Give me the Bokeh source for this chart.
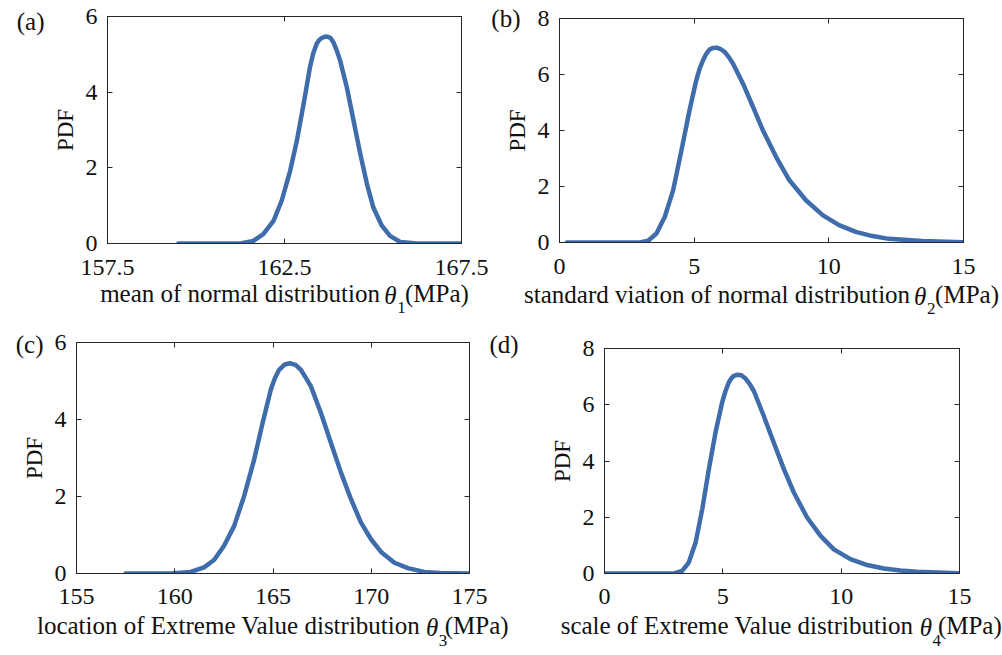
from bokeh.plotting import figure
from bokeh.layouts import column, row
from bokeh.models import LinearAxis, Range1d, FixedTicker, CustomJSTickFormatter
from bokeh.embed import file_html
from bokeh.resources import INLINE

# ---------------- data ----------------
a_x = [159.5, 160.5, 161.25, 161.62, 161.9, 162.19, 162.42, 162.66, 162.85, 163.04,
       163.22, 163.31, 163.41, 163.48, 163.55, 163.62, 163.68, 163.74, 163.8, 163.88,
       163.97, 164.07, 164.26, 164.45, 164.64, 164.83, 165.01, 165.25, 165.48, 165.77,
       166.24, 167.5]
a_y = [0.0, 0.0, 0.0, 0.07, 0.25, 0.6, 1.13, 1.92, 2.72, 3.69,
       4.66, 5.02, 5.28, 5.38, 5.43, 5.46, 5.47, 5.46, 5.43, 5.32,
       5.12, 4.84, 4.13, 3.25, 2.37, 1.57, 0.95, 0.47, 0.2, 0.04,
       0.0, 0.0]

b_x = [0.27, 2.98, 3.29, 3.6, 3.91, 4.22, 4.53, 4.83, 5.08, 5.2, 5.33, 5.45, 5.57,
       5.7, 5.84, 5.98, 6.13, 6.28, 6.44, 6.81, 7.18, 7.55, 8.04, 8.53, 9.15, 9.77,
       10.38, 11.0, 11.62, 12.23, 13.47, 15.0]
b_y = [0.0, 0.0, 0.06, 0.32, 0.92, 1.87, 3.3, 4.73, 5.8, 6.2, 6.51, 6.74, 6.89,
       6.95, 6.96, 6.91, 6.81, 6.63, 6.39, 5.68, 4.85, 4.01, 3.06, 2.23, 1.51, 0.98,
       0.62, 0.38, 0.23, 0.13, 0.05, 0.01]

c_x = [157.5, 159.8, 160.81, 161.49, 162.0, 162.51, 163.02, 163.53, 164.04, 164.47,
       164.89, 165.1, 165.31, 165.6, 165.86, 166.15, 166.42, 166.65, 166.93, 167.44,
       167.95, 168.46, 168.97, 169.48, 169.99, 170.5, 171.18, 171.86, 172.7, 173.5,
       175.0]
c_y = [0.0, 0.0, 0.04, 0.16, 0.35, 0.72, 1.23, 2.01, 2.96, 3.91,
       4.78, 5.08, 5.29, 5.43, 5.46, 5.42, 5.29, 5.1, 4.86, 4.17,
       3.39, 2.62, 1.93, 1.32, 0.89, 0.56, 0.28, 0.14, 0.04, 0.01,
       0.0]

d_x = [0.04, 2.93, 3.28, 3.56, 3.85, 4.13, 4.41, 4.69, 4.97, 5.11, 5.25, 5.35, 5.45,
       5.61, 5.78, 5.96, 6.13, 6.31, 6.73, 7.15, 7.58, 8.0, 8.56, 9.13, 9.69, 10.39,
       11.1, 11.8, 12.5, 13.2, 14.97]
d_y = [0.0, 0.0, 0.09, 0.39, 1.1, 2.29, 3.71, 5.01, 6.08, 6.48, 6.79, 6.93, 7.02,
       7.07, 7.05, 6.93, 6.74, 6.49, 5.6, 4.66, 3.71, 2.88, 1.99, 1.34, 0.86, 0.51,
       0.3, 0.18, 0.11, 0.06, 0.01]

a_xticks = [157.5, 162.5, 167.5]
b_xticks = [0, 5, 10, 15]
c_xticks = [155, 160, 165, 170, 175]
d_xticks = [0, 5, 10, 15]
a_yticks = [0, 2, 4, 6]
b_yticks = [0, 2, 4, 6, 8]
c_yticks = [0, 2, 4, 6]
d_yticks = [0, 2, 4, 6, 8]

a_label = ("mean of normal distribution", "1")
b_label = ("standard viation of normal distribution", "2")
c_label = ("location of Extreme Value distribution", "3")
d_label = ("scale of Extreme Value distribution", "4")
unit_text = "(MPa)"
theta_text = "\u03b8"
y_title = "PDF"
panel_tags = ["(a)", "(b)", "(c)", "(d)"]

# ---------------- styling ----------------
FONT = "Liberation Serif"
LINE_COLOR = "#3f6cab"
AX_COLOR = "#262626"
TXT = "#111111"
TICK_FS = 24
LAB_FS = 25
SUB_FS = 17
TAG_FS = 25
GAP = "\u2003"      # em space: room for theta + subscript
GAP_W = LAB_FS * 1.0

W = {' ': 250, '(': 333, ')': 333, 'M': 889, 'P': 556, 'E': 611, 'V': 722,
     'a': 444, 'b': 500, 'c': 444, 'd': 500, 'e': 444, 'f': 333, 'h': 500,
     'i': 278, 'l': 278, 'm': 778, 'n': 500, 'o': 500, 'r': 333, 's': 389,
     't': 278, 'u': 500, 'v': 500, 'x': 500}

FRAMES = {}


def tw(s, fs):
    return sum(W.get(ch, 500) for ch in s) / 1000.0 * fs


def const_formatter(txt):
    return CustomJSTickFormatter(args=dict(t=txt), code="return t")


def hidden_line(ax):
    ax.axis_line_color = None
    ax.major_tick_line_color = None
    ax.minor_tick_line_color = None
    ax.major_tick_in = 0
    ax.major_tick_out = 0


def text_axis(p, side, pos, txt, fs, standoff, style="normal"):
    ax = LinearAxis(ticker=FixedTicker(ticks=[pos]), formatter=const_formatter(txt))
    hidden_line(ax)
    ax.major_label_text_font = FONT
    ax.major_label_text_font_size = f"{fs}px"
    ax.major_label_text_font_style = style
    ax.major_label_text_color = TXT
    ax.major_label_standoff = standoff
    p.add_layout(ax, side)
    return ax


def style_main_axis(ax, standoff):
    ax.axis_line_color = AX_COLOR
    ax.axis_line_width = 1
    ax.major_tick_line_color = AX_COLOR
    ax.major_tick_in = 5
    ax.major_tick_out = 0
    ax.minor_tick_line_color = None
    ax.major_label_text_font = FONT
    ax.major_label_text_color = TXT
    ax.major_label_text_font_size = f"{TICK_FS}px"
    ax.major_label_standoff = standoff


def blank_axis(p, side, ticks):
    ax = LinearAxis(ticker=FixedTicker(ticks=ticks), formatter=const_formatter(""))
    ax.axis_line_color = AX_COLOR
    ax.major_tick_line_color = AX_COLOR
    ax.major_tick_in = 5
    ax.major_tick_out = 0
    ax.minor_tick_line_color = None
    ax.major_label_text_font_size = "0px"
    ax.major_label_standoff = 0
    p.add_layout(ax, side)


def make_panel(key, xs, ys, xr, yr, xticks, yticks, width, height, borders, x_standoff):
    bl, br, bt, bb = borders
    p = figure(width=width, height=height, x_range=Range1d(*xr), y_range=Range1d(*yr),
               output_backend="svg", toolbar_location=None, frame_align=False,
               min_border_left=bl, min_border_right=br,
               min_border_top=bt, min_border_bottom=bb)
    p.grid.visible = False
    p.outline_line_color = AX_COLOR
    p.outline_line_width = 1
    p.background_fill_color = "white"
    p.border_fill_color = "white"
    p.xaxis.ticker = FixedTicker(ticks=xticks)
    p.yaxis.ticker = FixedTicker(ticks=yticks)
    for ax in p.xaxis:
        style_main_axis(ax, x_standoff)
    for ax in p.yaxis:
        style_main_axis(ax, 10)
        ax.axis_label = y_title
        ax.axis_label_text_font = FONT
        ax.axis_label_text_font_style = "normal"
        ax.axis_label_text_font_size = "23px"
        ax.axis_label_text_color = TXT
        ax.axis_label_standoff = 5
    blank_axis(p, "above", xticks)
    blank_axis(p, "right", yticks)
    p.line(xs, ys, line_color=LINE_COLOR, line_width=4.5, line_join="round", line_cap="round")
    FRAMES[key] = (width - bl - br, height - bt - bb, xr, yr)
    return p


def px_to_x(key, px):
    fw, fh, xr, yr = FRAMES[key]
    return xr[0] + px / fw * (xr[1] - xr[0])


def px_to_y(key, off_from_top):
    fw, fh, xr, yr = FRAMES[key]
    return yr[1] - off_from_top / fh * (yr[1] - yr[0])


def add_xlabel(p, key, parts, s_main, s_theta, s_sub):
    main, sub = parts
    fw = FRAMES[key][0]
    w1 = tw(main, LAB_FS)
    wm = tw(unit_text, LAB_FS)
    total = w1 + GAP_W + wm
    cx = fw / 2.0
    left = cx - total / 2.0
    th_left = left + w1 + 4
    th_c = th_left + 6.5
    sub_c = th_left + 17.5
    text_axis(p, "below", px_to_x(key, cx), main + GAP + unit_text, LAB_FS, s_main)
    text_axis(p, "below", px_to_x(key, th_c), theta_text, LAB_FS, s_theta, style="italic")
    text_axis(p, "below", px_to_x(key, sub_c), sub, SUB_FS, s_sub)


# frames (page px): a L107 R461 T16 B243 ; b L558 R963 T18 B242
#                   c L76 R469 T342 B573 ; d L604 R959 T348 B573
pa = make_panel("a", a_x, a_y, (157.5, 167.5), (0, 6), a_xticks, a_yticks, 488, 330, (107, 27, 16, 87), 16)
pb = make_panel("b", b_x, b_y, (0, 15), (0, 8), b_xticks, b_yticks, 514, 330, (70, 39, 18, 88), 16)
pc = make_panel("c", c_x, c_y, (155, 175), (0, 6), c_xticks, c_yticks, 530, 325, (76, 61, 12, 82), 15)
pd = make_panel("d", d_x, d_y, (0, 15), (0, 8), d_xticks, d_yticks, 472, 325, (74, 43, 18, 82), 15)

add_xlabel(pa, "a", a_label, 2, -28, -10)
add_xlabel(pb, "b", b_label, 4, -28, -10)
add_xlabel(pc, "c", c_label, 5, -28, -9)
add_xlabel(pd, "d", d_label, 5, -28, -9)

# panel tags
text_axis(pa, "left", px_to_y("a", 5), panel_tags[0], TAG_FS, 5)
text_axis(pb, "left", px_to_y("b", 0), panel_tags[1], TAG_FS, -19)
text_axis(pc, "left", px_to_y("c", 2), panel_tags[2], TAG_FS, -25)
text_axis(pc, "right", px_to_y("c", 1), panel_tags[3], TAG_FS, 20)

layout = column(row(pa, pb), row(pc, pd))
open("out.html", "w").write(file_html(layout, INLINE))
